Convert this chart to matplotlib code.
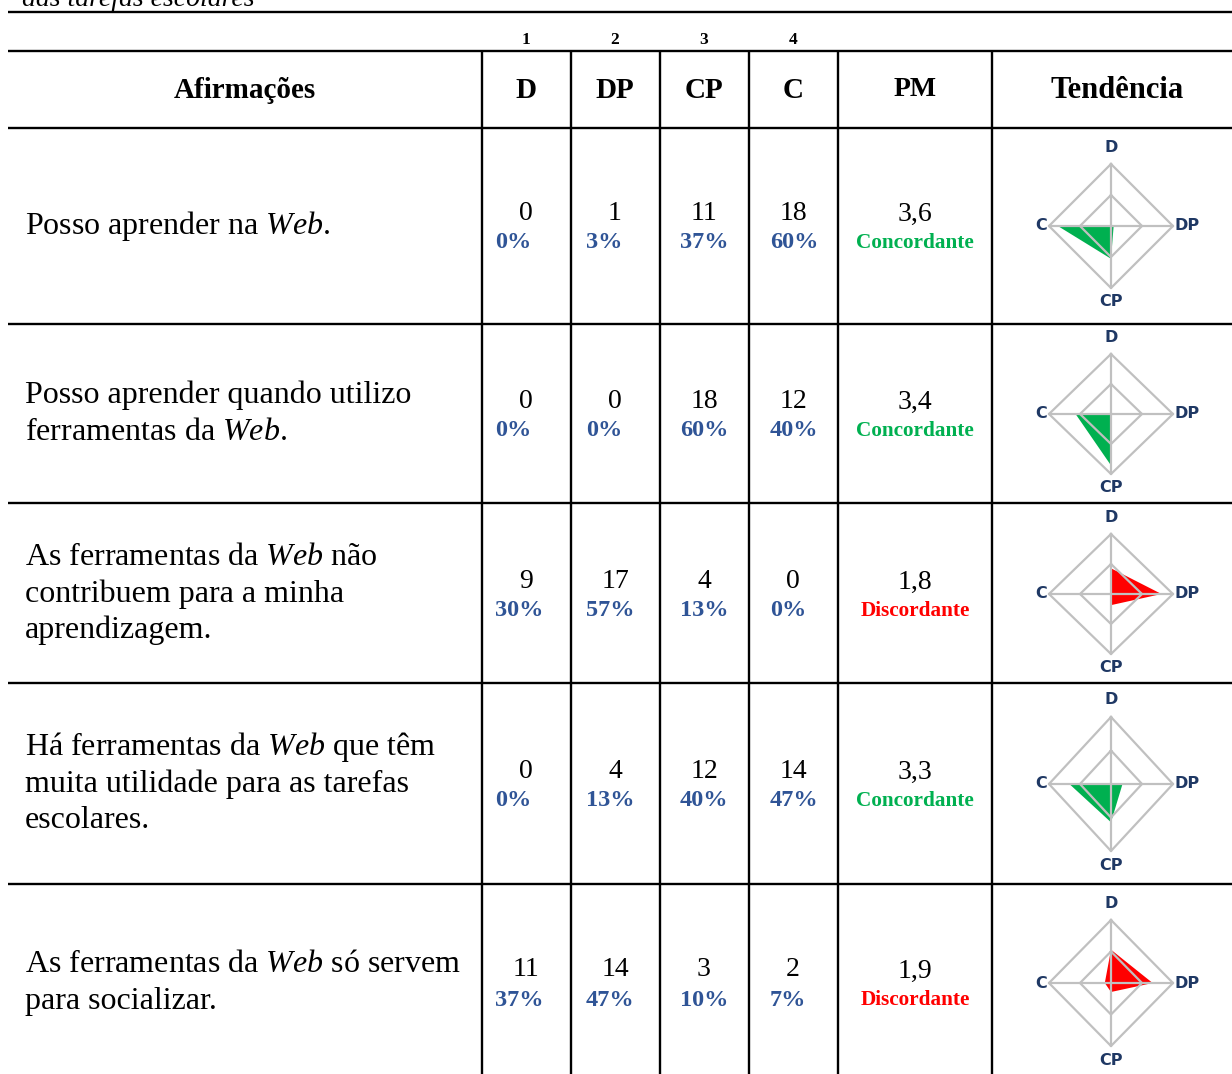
import matplotlib
matplotlib.use("Agg")
import matplotlib.pyplot as plt
import numpy as np

plt.rcParams['font.family'] = ['Liberation Serif', 'DejaVu Serif']
plt.rcParams['mathtext.fontset'] = 'custom'
plt.rcParams['mathtext.rm'] = 'Liberation Serif'
plt.rcParams['mathtext.it'] = 'Liberation Serif:italic'

# data
statements = [
    ["Posso aprender na $Web$."],
    ["Posso aprender quando utilizo", "ferramentas da $Web$."],
    ["As ferramentas da $Web$ não", "contribuem para a minha", "aprendizagem."],
    ["Há ferramentas da $Web$ que têm", "muita utilidade para as tarefas", "escolares."],
    ["As ferramentas da $Web$ só servem", "para socializar."],
]
scale_names = ["D", "DP", "CP", "C"]
scale_nums = ["1", "2", "3", "4"]
count_d = [0, 0, 9, 0, 11]
count_dp = [1, 0, 17, 4, 14]
count_cp = [11, 18, 4, 12, 3]
count_c = [18, 12, 0, 14, 2]
pct_d = [0, 0, 30, 0, 37]
pct_dp = [3, 0, 57, 13, 47]
pct_cp = [37, 60, 13, 40, 10]
pct_c = [60, 40, 0, 47, 7]
pm = ["3,6", "3,4", "1,8", "3,3", "1,9"]
tendency = ["Concordante", "Concordante", "Discordante", "Concordante", "Discordante"]
radar_max = 70

W, H = 1232, 1074
fig = plt.figure(figsize=(W / 100, H / 100), dpi=100)
ax = fig.add_axes([0, 0, 1, 1])
ax.set_xlim(0, W)
ax.set_ylim(H, 0)
ax.axis("off")

col_x = [482, 571, 660, 749, 838, 992]
col_mid = [526, 615, 704, 793]
pct_left = [495, 586, 680, 770]
row_lines = [128, 324, 503, 683, 884]
row_mid = [226, 414, 594, 784, 983]
radar_ry = [62, 60, 60, 67, 63]
lw = 1.7

# caption fragment at the top (cut off in the source)
ax.text(22, 6, "das tarefas escolares", fontsize=20, style="italic", va="baseline", ha="left")

for y in [12, 51] + row_lines:
    ax.plot([8, W], [y, y], color="black", lw=lw, solid_capstyle="butt")
for x in col_x:
    ax.plot([x, x], [51, H], color="black", lw=lw, solid_capstyle="butt")

# header
for num, cx in zip(scale_nums, col_mid):
    ax.text(cx, 40, num, fontsize=12.5, fontweight="bold", ha="center", va="center")
ax.text(245, 91, "Afirmações", fontsize=21, fontweight="bold", ha="center", va="center")
for name, cx in zip(scale_names, col_mid):
    ax.text(cx, 91, name, fontsize=21, fontweight="bold", ha="center", va="center")
ax.text(915, 90, "PM", fontsize=20, fontweight="bold", ha="center", va="center")
ax.text(1117, 91, "Tendência", fontsize=22, fontweight="bold", ha="center", va="center")

blue = "#2F5496"
tcol = {"Concordante": "#00B050", "Discordante": "#FF0000"}
counts = [count_d, count_dp, count_cp, count_c]
pcts = [pct_d, pct_dp, pct_cp, pct_c]

for i, cy in enumerate(row_mid):
    lines = statements[i]
    n = len(lines)
    for k, line in enumerate(lines):
        ly = cy + (k - (n - 1) / 2) * 36.5
        ax.text(25, ly, line, fontsize=23, ha="left", va="center")
    for j in range(4):
        ax.text(col_mid[j], cy - 13, str(counts[j][i]), fontsize=20, ha="center", va="center")
        ax.text(pct_left[j], cy + 17, f"{pcts[j][i]}%", fontsize=17.5, fontweight="bold",
                color=blue, ha="left", va="center")
    ax.text(915, cy - 12, pm[i], fontsize=20, ha="center", va="center")
    ax.text(915, cy + 17, tendency[i], fontsize=15.3, fontweight="bold",
            color=tcol[tendency[i]], ha="center", va="center")

    # radar
    half = 95
    rx_px, ry_px = 62, radar_ry[i]
    rx = fig.add_axes([(1111 - half) / W, 1 - (cy + half) / H, 2 * half / W, 2 * half / H])
    rx.set_xlim(-half / rx_px, half / rx_px)
    rx.set_ylim(-half / ry_px, half / ry_px)
    rx.axis("off")
    gray = "#C0C0C0"
    for r in [1.0, 0.5]:
        rx.plot([0, r, 0, -r, 0], [r, 0, -r, 0, r], color=gray, lw=1.6)
    rx.plot([-1, 1], [0, 0], color=gray, lw=1.6)
    rx.plot([0, 0], [-1, 1], color=gray, lw=1.6)
    d = pct_d[i] / radar_max
    dp = pct_dp[i] / radar_max
    cp = pct_cp[i] / radar_max
    c = pct_c[i] / radar_max
    rx.fill([0, dp, 0, -c], [d, 0, -cp, 0], color=tcol[tendency[i]], lw=0)
    lab = dict(fontsize=11.5, fontweight="bold", color="#1F3864", family="DejaVu Sans")
    rx.text(0, 1 + 17 / ry_px, "D", ha="center", va="center", **lab)
    rx.text(0, -1 - 14 / ry_px, "CP", ha="center", va="center", **lab)
    rx.text(-1.03, 0, "C", ha="right", va="center", **lab)
    rx.text(1.03, 0, "DP", ha="left", va="center", **lab)

fig.savefig("out.png", dpi=100)
